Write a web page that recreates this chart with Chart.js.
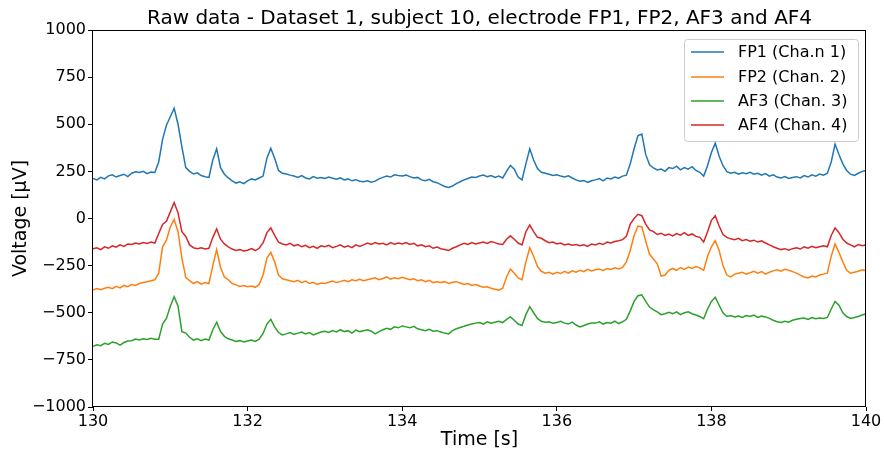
<!DOCTYPE html>
<html>
<head>
<meta charset="utf-8">
<script src="https://cdn.jsdelivr.net/npm/chart.js@4.4.0/dist/chart.umd.min.js"></script>
<style>
  html, body { margin: 0; padding: 0; background: #fff; }
  #wrap { width: 884px; height: 451px; }
</style>
</head>
<body>
<div id="wrap"><canvas id="chart" width="884" height="451"></canvas></div>
<script>
// samples start at 130 s, one every 0.05 s (values in µV)
const t0 = 130
const dt = 0.05

const fp1 = [
  212, 205, 218, 210, 226, 232, 220, 228, 235, 222,
  240, 248, 244, 250, 238, 246, 244, 300, 420, 495,
  540, 585, 500, 380, 270, 250, 236, 242, 228, 222,
  218, 310, 370, 270, 235, 215, 200, 188, 195, 185,
  200, 210, 205, 215, 225, 320, 372, 320, 255, 240,
  236, 230, 225, 218, 228, 215, 210, 222, 214, 218,
  212, 220, 214, 208, 216, 205, 210, 200, 206, 198,
  195, 200, 192, 198, 210, 218, 225, 220, 232, 228,
  226, 230, 222, 215, 218, 205, 200, 208, 195, 190,
  180, 170, 165, 172, 185, 195, 205, 212, 220, 218,
  225, 230, 222, 228, 218, 225, 215, 250, 282, 262,
  220, 205, 290, 370, 310, 265, 245, 240, 235, 228,
  232, 225, 220, 226, 215, 205, 198, 202, 192, 200,
  205, 212, 200, 215, 210, 220, 214, 225, 230, 290,
  370, 440, 448, 340, 285, 268, 258, 262, 250, 270,
  265, 278, 258, 270, 262, 275, 255, 245, 225, 280,
  350, 400, 330, 280, 248, 240, 245, 235, 242, 238,
  245, 235, 240, 230, 238, 225, 232, 220, 215, 222,
  212, 218, 222, 215, 228, 220, 232, 225, 236, 230,
  240, 300, 395, 340, 290, 255, 235, 228, 240, 250, 255
]

const fp2 = [
  -380, -372, -378, -370, -365, -372, -360, -368, -355, -362,
  -350, -355, -345, -340, -335, -330, -325, -290, -150, -115,
  -45, -5, -70, -210, -312, -330, -345, -335, -348, -340,
  -345, -250, -165, -260, -310, -325, -345, -352, -360, -355,
  -362, -358, -365, -350, -300, -210, -180, -230, -300, -320,
  -325, -330, -335, -328, -340, -332, -345, -338, -350, -342,
  -345, -338, -332, -340, -335, -328, -335, -325, -330, -322,
  -330, -325, -320, -315, -325, -318, -310, -322, -315, -320,
  -312, -318, -325, -320, -330, -325, -335, -328, -340, -335,
  -340, -335, -345, -338, -335, -342, -350, -345, -355, -350,
  -358, -365, -362, -370, -375, -380, -370, -310, -268, -290,
  -315, -325, -230, -155, -200, -255, -280, -290, -285, -295,
  -285, -292, -280, -290, -278, -285, -275, -282, -270, -278,
  -272, -268, -275, -265, -270, -262, -268, -260, -230, -170,
  -90, -40, -45, -120, -190, -215, -240, -305, -300, -275,
  -265, -275, -260, -270, -258, -265, -255, -262, -275, -200,
  -150, -118, -170, -250, -300, -310, -295, -290, -285, -295,
  -288, -280, -290, -282, -295, -285, -278, -272, -280, -270,
  -275, -282, -290, -300, -310, -315, -305, -310, -300, -295,
  -290, -200, -135, -180, -230, -275, -290, -285, -280, -272, -278
]

const af3 = [
  -678, -670, -675, -662, -668, -655, -660, -672, -658, -650,
  -648, -640, -645, -638, -642, -635, -640, -640, -560, -530,
  -465, -415, -465, -600, -608, -630, -645, -638, -648, -640,
  -645, -590, -550, -600, -625, -638, -645, -652, -648, -655,
  -650, -645, -652, -640, -610, -560, -535, -575, -605, -618,
  -612, -605, -615, -608, -602, -612, -605, -618, -610, -602,
  -598, -605, -595, -602, -590, -600, -595, -608, -592, -600,
  -595, -590, -598, -612, -600, -590, -582, -588, -575, -580,
  -570, -575, -580, -572, -585, -590, -595, -588, -598, -595,
  -602, -608, -612, -595, -585, -578, -572, -565, -560, -555,
  -552, -560, -548, -555, -550, -545, -552, -535, -522, -540,
  -560, -568, -510, -468, -500, -530, -545, -550, -548, -555,
  -552, -545, -555, -560, -550, -565, -575, -568, -560, -555,
  -555, -548, -560, -552, -555, -545, -558, -548, -535, -490,
  -440, -410, -405, -440, -470, -485, -495, -510, -505, -498,
  -505, -495, -510, -500, -495, -505, -512, -520, -532, -480,
  -440, -418, -460, -500, -520, -515, -522, -518, -525, -515,
  -520, -512, -525, -518, -522, -530, -540, -548, -552, -545,
  -550, -540, -535, -530, -528, -535, -525, -532, -528, -530,
  -525, -480, -440, -460, -500, -520, -530, -525, -520, -512, -505
]

const af4 = [
  -160, -155, -165, -150, -158, -145, -152, -140, -148, -135,
  -138, -130, -135, -128, -132, -125, -130, -80, -32, -15,
  35, 85, 30, -70, -95, -140, -155, -160, -155, -162,
  -158, -100, -55, -110, -135, -150, -162, -170, -165, -172,
  -168, -160, -170, -158, -130, -75, -50, -90, -125, -135,
  -140, -132, -145, -138, -150, -142, -155, -148, -158, -145,
  -150, -142, -155, -148, -140, -152, -145, -155, -140, -148,
  -140, -130, -138, -128, -135, -132, -140, -128, -136, -130,
  -135, -128, -138, -132, -145, -140, -150, -145, -158, -152,
  -160, -165, -170, -158, -150, -140, -132, -138, -128, -135,
  -130, -125, -132, -122, -128, -135, -138, -110, -92, -110,
  -130, -140, -70, -35, -70, -100, -105, -118, -128, -125,
  -135, -130, -140, -135, -142, -138, -145, -140, -148, -135,
  -140, -132, -138, -125, -130, -122, -118, -112, -95, -30,
  0, 22, 15, -30, -60, -70, -85, -78, -90, -82,
  -92, -80, -88, -75, -90, -82, -95, -100, -125, -70,
  -10, 15, -40, -85, -100, -108, -112, -105, -118, -112,
  -120, -115, -125, -118, -130, -140, -150, -158, -165, -160,
  -168, -160, -155, -162, -150, -158, -148, -155, -150, -145,
  -150, -90, -50, -75, -110, -130, -140, -150, -138, -145, -140
]

const chartTitle = 'Raw data - Dataset 1, subject 10, electrode FP1, FP2, AF3 and AF4'
const seriesNames = ['FP1 (Cha.n 1)', 'FP2 (Chan. 2)', 'AF3 (Chan. 3)', 'AF4 (Chan. 4)']
const seriesColors = ['#1f77b4', '#ff7f0e', '#2ca02c', '#d62728']
const seriesValues = [fp1, fp2, af3, af4]

const toPoints = vals => vals.map((v, i) => ({ x: t0 + i * dt, y: v }))

// matplotlib-ish box round the axes, title centred on the axes, framed legend
const frameAndLegend = {
  id: 'frameAndLegend',
  afterDatasetsDraw(chart) {
    const ctx = chart.ctx
    const a = chart.chartArea
    ctx.save()
    ctx.strokeStyle = '#000'
    ctx.lineWidth = 1
    ctx.strokeRect(Math.round(a.left) - 0.5, Math.round(a.top) + 0.5, Math.round(a.right - a.left), Math.round(a.bottom - a.top) - 1)

    ctx.fillStyle = '#000'
    ctx.font = '20px "DejaVu Sans"'
    ctx.textAlign = 'center'
    ctx.textBaseline = 'middle'
    ctx.fillText(chartTitle, (a.left + a.right) / 2, 19)

    const x = a.right - 182, y = a.top + 9, w = 174, h = 102
    ctx.fillStyle = 'rgba(255,255,255,0.8)'
    ctx.strokeStyle = '#cccccc'
    ctx.beginPath()
    ctx.roundRect(x + 0.5, y + 0.5, w, h, 3)
    ctx.fill()
    ctx.stroke()
    ctx.font = '16px "DejaVu Sans"'
    ctx.textAlign = 'left'
    chart.data.datasets.forEach((ds, i) => {
      const ry = Math.round(y + 13.3 + i * 24.2)
      ctx.strokeStyle = ds.borderColor
      ctx.lineWidth = 1.5
      ctx.beginPath()
      ctx.moveTo(x + 7, ry)
      ctx.lineTo(x + 40, ry)
      ctx.stroke()
      ctx.fillStyle = '#000'
      ctx.fillText(ds.label, x + 54, ry + 1)
    })
    ctx.restore()
  }
}

Chart.defaults.font.family = '"DejaVu Sans", sans-serif'
Chart.defaults.color = '#000'

new Chart(document.getElementById('chart'), {
  type: 'line',
  data: {
    datasets: seriesValues.map((vals, i) => ({
      label: seriesNames[i],
      data: toPoints(vals),
      borderColor: seriesColors[i],
      borderWidth: 1.5,
      pointRadius: 0,
      tension: 0,
      fill: false,
      order: 4 - i,
    }))
  },
  options: {
    responsive: false,
    animation: false,
    parsing: false,
    layout: { padding: { left: 0, right: 18, top: 30, bottom: 0 } },
    plugins: {
      legend: { display: false },
      tooltip: { enabled: false },
      title: { display: false },
    },
    scales: {
      x: {
        type: 'linear',
        min: 130,
        max: 140,
        ticks: { stepSize: 2, font: { size: 16 }, padding: 1, maxRotation: 0 },
        grid: { drawOnChartArea: false, drawTicks: true, tickLength: 4, color: '#000' },
        border: { display: false },
        title: { display: true, text: 'Time [s]', font: { size: 19 }, padding: { top: 0, bottom: 0 } },
        afterFit: s => { s.height = 44 },
      },
      y: {
        min: -1000,
        max: 1000,
        ticks: { stepSize: 250, font: { size: 16 }, padding: 2, callback: v => String(v).replace('-', '\u2212') },
        grid: { drawOnChartArea: false, drawTicks: true, tickLength: 5, color: '#000' },
        border: { display: false },
        title: { display: true, text: 'Voltage [µV]', font: { size: 19 }, padding: { top: 10, bottom: 4 } },
        afterFit: s => { s.width = 93 },
      },
    },
  },
  plugins: [frameAndLegend],
})
</script>
</body>
</html>
